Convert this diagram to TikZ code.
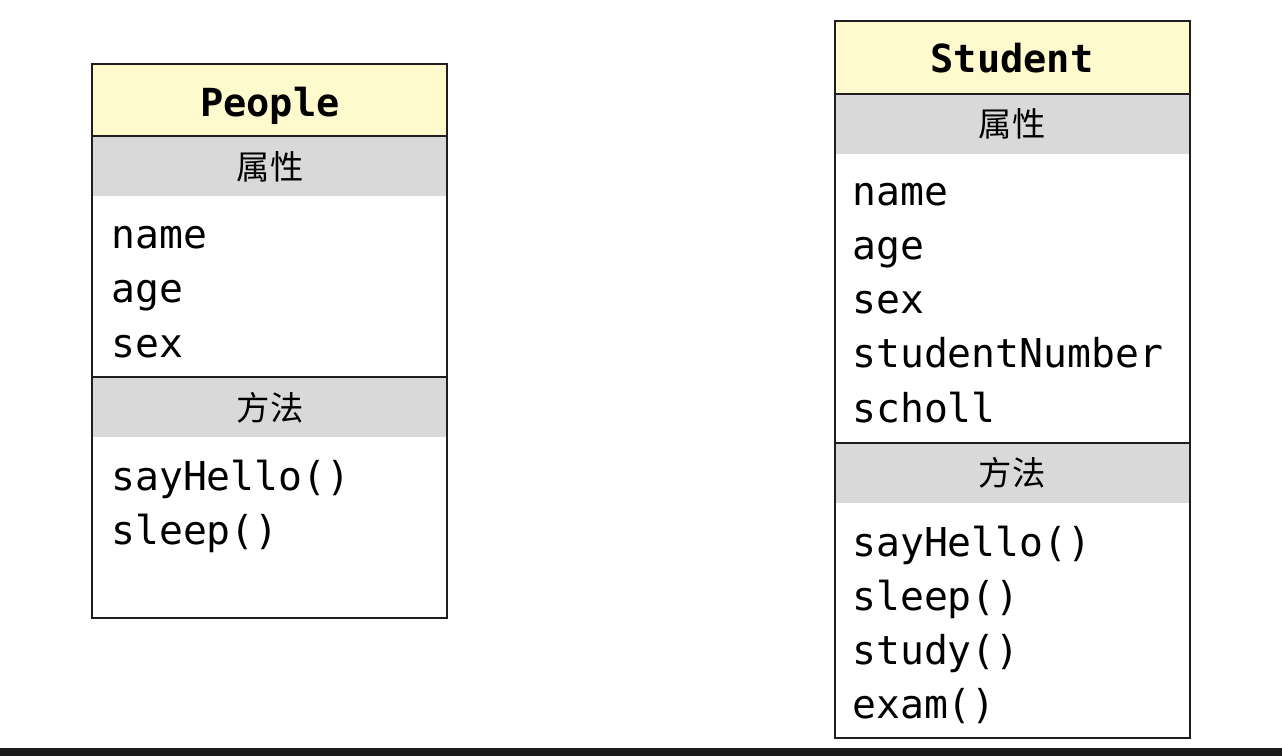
\documentclass[tikz,border=0pt]{standalone}
\usepackage{fontspec}
\newfontfamily\monofam{DejaVu Sans Mono}
\newfontfamily\cjk{Noto Sans CJK SC}
\definecolor{titlefill}{RGB}{255,250,205}
\definecolor{bandfill}{RGB}{217,217,217}
\definecolor{barfill}{RGB}{28,28,28}
\definecolor{framecol}{RGB}{30,30,30}
\begin{document}
\begin{tikzpicture}[x=0.75pt,y=-0.75pt,
  titletext/.style={font=\monofam\bfseries\fontsize{29}{29}\selectfont, inner sep=0, anchor=base},
  item/.style={font=\monofam\fontsize{29.8}{29.8}\selectfont, inner sep=0, anchor=base west},
  bandtext/.style={font=\cjk\fontsize{25}{25}\selectfont, inner sep=0},
  frame/.style={draw=framecol, line width=1.6pt}]
\useasboundingbox (0,0) rectangle (1282,756);
\fill[white] (0,0) rectangle (1282,756);

% ---------- People ----------
\fill[titlefill] (92,64) rectangle (447,136);
\fill[bandfill] (92,136) rectangle (447,196);
\fill[bandfill] (92,377) rectangle (447,437);
\draw[frame] (92,64) rectangle (447,618);
\draw[frame] (92,136) -- (447,136);
\draw[frame] (92,377) -- (447,377);
\node[titletext] (ptitle) at (270,117) {People};
\node[bandtext] (pattr) at (270,167) {属性};
\node[item] (pname) at (111,248) {name};
\node[item] (page) at (111,302) {age};
\node[item] (psex) at (111,357) {sex};
\node[bandtext] (pmeth) at (270,408) {方法};
\node[item] (phello) at (111,490) {sayHello()};
\node[item] (psleep) at (111,544) {sleep()};

% ---------- Student ----------
\fill[titlefill] (835,21) rectangle (1190,94);
\fill[bandfill] (835,94) rectangle (1190,154);
\fill[bandfill] (835,443) rectangle (1190,503);
\draw[frame] (835,21) rectangle (1190,738);
\draw[frame] (835,94) -- (1190,94);
\draw[frame] (835,443) -- (1190,443);
\node[titletext] (stitle) at (1012,73) {Student};
\node[bandtext] (sattr) at (1012,124) {属性};
\node[item] (sname) at (852,205) {name};
\node[item] (sage) at (852,259) {age};
\node[item] (ssex) at (852,313) {sex};
\node[item] (snum) at (852,367) {studentNumber};
\node[item] (sschool) at (852,422) {scholl};
\node[bandtext] (smeth) at (1012,473) {方法};
\node[item] (shello) at (852,556) {sayHello()};
\node[item] (ssleep) at (852,610) {sleep()};
\node[item] (sstudy) at (852,664) {study()};
\node[item] (sexam) at (852,718) {exam()};

% ---------- bottom bar ----------
\fill[barfill] (0,748) rectangle (1282,756);
\end{tikzpicture}
\end{document}
